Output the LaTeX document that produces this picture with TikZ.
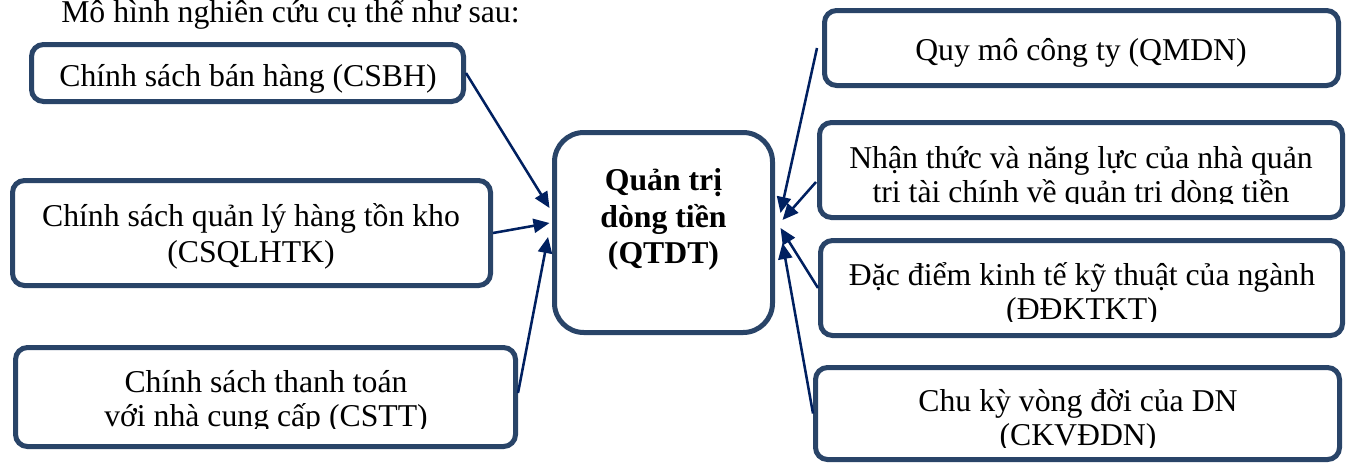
\documentclass[tikz,border=0pt]{standalone}
\usepackage{fontspec}
\setmainfont{Liberation Serif}
\usetikzlibrary{arrows.meta,calc,fit}
\definecolor{boxline}{RGB}{41,68,104}
\definecolor{arrowblue}{RGB}{0,32,96}
\tikzset{
  boxframe/.style={draw=boxline, line width=3.75pt, rounded corners=9pt, inner sep=0pt, fill=white},
  hubframe/.style={boxframe, rounded corners=22pt},
  txt/.style={inner sep=0pt, anchor=base, font=\fontsize{23.8}{27}\selectfont},
  hubtxt/.style={txt, font=\fontsize{23.8}{27}\selectfont\bfseries},
  linkarrow/.style={draw=arrowblue, line width=1.9pt, -{Triangle[length=12pt,width=10.5pt]}},
}
\begin{document}
\begin{tikzpicture}[x=0.75pt,y=-0.75pt]
\fill[white] (0,0) rectangle (1355,464);
\useasboundingbox (0,0) rectangle (1355,464);

% heading line
\node[txt, anchor=base west] (heading) at (61,22.5) {Mô hình nghiên cứu cụ thể như sau:};

% frames
\node[boxframe, fit={(31.5,44.5) (463.5,101.5)}] (csbh) {};
\node[boxframe, fit={(12.5,180.5) (490.5,285.5)}] (csql) {};
\node[boxframe, fit={(15.5,347.5) (515.5,446.5)}] (cstt) {};
\node[hubframe, fit={(554.5,132.5) (772.5,332.5)}] (qtdt) {};
\node[boxframe, fit={(824.5,10.5) (1338.5,85.5)}] (qmdn) {};
\node[boxframe, fit={(819.5,122.5) (1342.5,217.5)}] (nt) {};
\node[boxframe, fit={(820.5,240.5) (1342.5,335.5)}] (dd) {};
\node[boxframe, fit={(815.5,367.5) (1339.5,459.5)}] (ckv) {};

% texts of the left column
\node[txt] (csbh-a) at (248,86) {Chính sách bán hàng (CSBH)};
\node[txt] (csql-a) at (251,226) {Chính sách quản lý hàng tồn kho};
\node[txt] (csql-b) at (251,262) {(CSQLHTK)};
\begin{scope}
  \clip (0,340) rectangle (540,428);
  \node[txt] (cstt-a) at (266,392) {Chính sách thanh toán};
  \node[txt] (cstt-b) at (266,426) {với nhà cung cấp (CSTT)};
\end{scope}

% centre
\node[hubtxt] (qtdt-a) at (663.5,190) {Quản trị};
\node[hubtxt] (qtdt-b) at (663.5,227) {dòng tiền};
\node[hubtxt] (qtdt-c) at (663.5,263) {(QTDT)};

% texts of the right column
\node[txt] (qmdn-a) at (1081,60) {Quy mô công ty (QMDN)};
\begin{scope}
  \clip (800,100) rectangle (1355,203);
  \node[txt] (nt-a) at (1081,168) {Nhận thức và năng lực của nhà quản};
  \node[txt] (nt-b) at (1081,202) {trị tài chính về quản trị dòng tiền};
\end{scope}
\begin{scope}
  \clip (800,230) rectangle (1355,321);
  \node[txt] (dd-a) at (1082,285) {Đặc điểm kinh tế kỹ thuật của ngành};
  \node[txt] (dd-b) at (1082,319) {(ĐĐKTKT)};
\end{scope}
\begin{scope}
  \clip (800,360) rectangle (1355,447);
  \node[txt] (ckv-a) at (1078,411) {Chu kỳ vòng đời của DN};
  \node[txt] (ckv-b) at (1078,445) {(CKVĐDN)};
\end{scope}

% connectors
\draw[linkarrow] (csbh.east) -- ($(qtdt.west)+(-2.5,-24.5)$);
\draw[linkarrow] (csql.east) -- ($(qtdt.west)+(-2.5,-9.5)$);
\draw[linkarrow] ($(cstt.east)+(0,-4)$) -- ($(qtdt.west)+(-4,4.5)$);
\draw[linkarrow] ($(qmdn.west)+(-5,0)$) -- ($(qtdt.east)+(5.5,-19.5)$);
\draw[linkarrow] ($(nt.west)+(-1,12)$) -- ($(qtdt.east)+(7.5,-12.5)$);
\draw[linkarrow] (dd.west) -- ($(qtdt.east)+(5.5,-4.5)$);
\draw[linkarrow] (ckv.west) -- ($(qtdt.east)+(7.5,10.5)$);
\end{tikzpicture}
\end{document}
